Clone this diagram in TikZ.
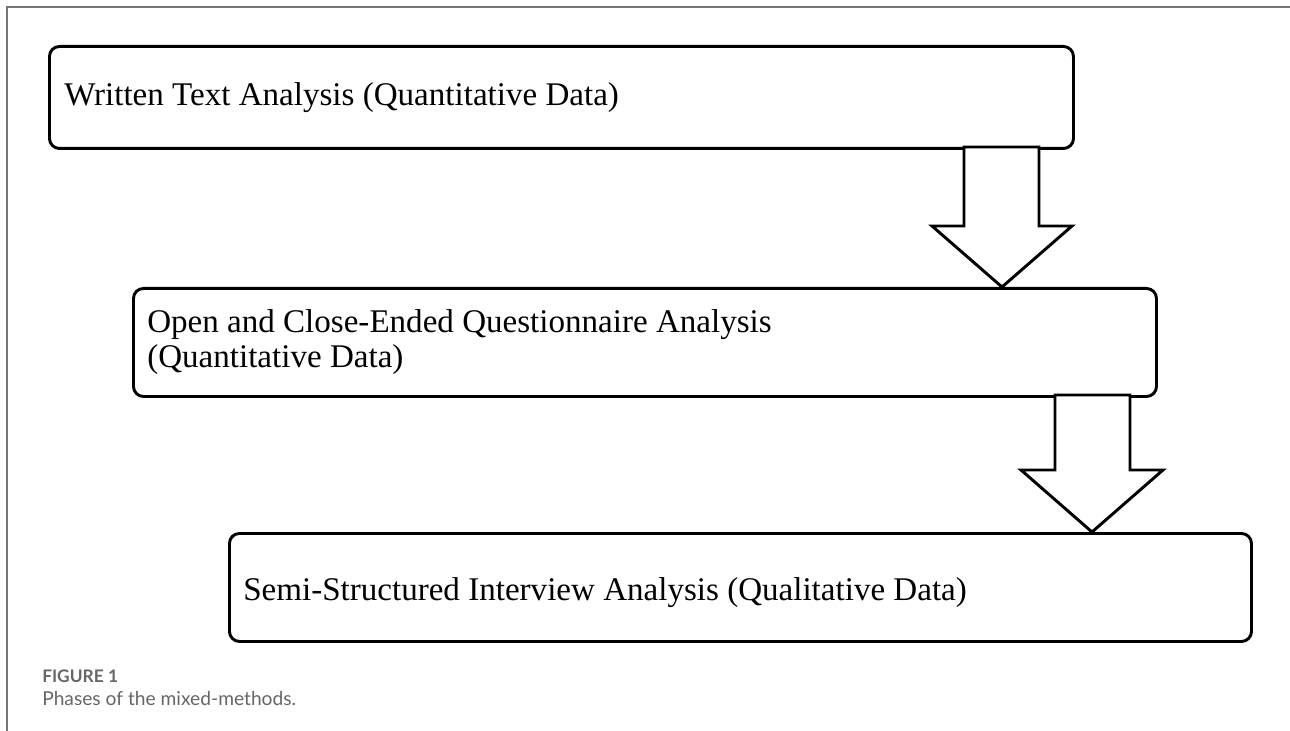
\documentclass[tikz,border=0pt]{standalone}
\usepackage{fontspec}
\setmainfont{Liberation Serif}
\newfontfamily\capfont{Lato}
\begin{document}
\begin{tikzpicture}[x=0.75pt,y=-0.75pt,
  box/.style={draw=black, line width=2.2pt, rounded corners=7.5pt, fill=white, inner sep=0pt, anchor=north west},
  boxtext/.style={anchor=base west, inner sep=0pt, font=\fontsize{24.8pt}{27pt}\selectfont},
  blockarrow/.style={draw=black, line width=2.2pt, fill=white, line join=miter},
  frameline/.style={draw=black!55, line width=1.5pt},
  capbold/.style={anchor=base west, inner sep=0pt, text=black!60, font=\capfont\bfseries\fontsize{13pt}{15pt}\selectfont},
  captext/.style={anchor=base west, inner sep=0pt, text=black!60, font=\capfont\fontsize{14.4pt}{17pt}\selectfont}]
\useasboundingbox (0,0) rectangle (1290,731);
% frame
\coordinate (fc) at (7,7);
\coordinate (fr) at (1290,7);
\coordinate (fb) at (7,731);
\draw[frameline] (fb) -- (fc) -- (fr);
% boxes
\node[box, minimum width=1024pt*0.75, minimum height=102pt*0.75] (b1) at (48,45) {};
\node[box, minimum width=1023pt*0.75, minimum height=108pt*0.75] (b2) at (132,287) {};
\node[box, minimum width=1022pt*0.75, minimum height=108pt*0.75] (b3) at (228,532) {};
% texts
\node[boxtext] (t1) at (64,106) {Written Text Analysis (Quantitative Data)};
\node[boxtext] (t2a) at (147,332) {Open and Close-Ended Questionnaire Analysis};
\node[boxtext] (t2b) at (147,367) {(Quantitative Data)};
\node[boxtext] (t3) at (243,600) {Semi-Structured Interview Analysis (Qualitative Data)};
% block arrows
\draw[blockarrow] (964,147) -- (964,226) -- (932,226) -- (1002,287) -- (1072,226) -- (1039,226) -- (1039,147) -- cycle;
\draw[blockarrow] (1055,395) -- (1055,470) -- (1021,470) -- (1092,532) -- (1163,470) -- (1130,470) -- (1130,395) -- cycle;
% caption
\node[capbold] (cap1) at (42,682) {FIGURE 1};
\node[captext] (cap2) at (42,705) {Phases of the mixed-methods.};
\end{tikzpicture}
\end{document}
